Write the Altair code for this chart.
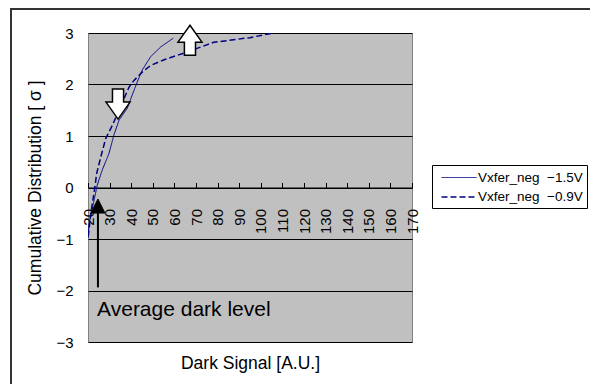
import altair as alt
import pandas as pd

# ---------------- data ----------------
x_ticks = [20, 30, 40, 50, 60, 70, 80, 90, 100, 110, 120, 130, 140, 150, 160, 170]
y_ticks = [-3, -2, -1, 0, 1, 2, 3]

series_names = ["Vxfer_neg\u00a0\u00a0\u22121.5V", "Vxfer_neg\u00a0\u00a0\u22120.9V"]

solid_x = [20.0, 20.5, 22.5, 24.3, 26.6, 29.7, 32.0, 34.4, 38.2, 40.5, 42.8, 45.1, 49.0, 53.7, 59.5]
solid_y = [-0.98, -0.70, -0.31, 0.05, 0.34, 0.66, 1.02, 1.31, 1.54, 1.80, 2.05, 2.28, 2.54, 2.73, 2.90]

dash_x = [20.1, 21.5, 23.2, 24.0, 25.9, 28.2, 31.3, 36.7, 39.0, 41.3, 45.1, 49.0, 55.2, 64.4, 78.3, 95.0, 105.6]
dash_y = [-0.95, -0.45, 0.01, 0.27, 0.59, 0.95, 1.21, 1.73, 1.95, 2.08, 2.24, 2.37, 2.48, 2.61, 2.82, 2.91, 3.00]

# annotations
label_text = ["Average dark level"]
label_x = [24.2]
label_y = [-2.38]

black_arrow_x = [24.6]
black_arrow_y = [-1.94]
black_arrow_y2 = [-0.45]
black_head_y = [-0.36]

down_arrow_x = [33.9]
down_arrow_y = [1.62]
up_arrow_x = [67.2]
up_arrow_y = [2.86]

# ---------------- tables ----------------
rows = []
for i, (x, y) in enumerate(zip(solid_x, solid_y)):
    rows.append({"x": x, "y": y, "series": series_names[0], "order": i})
for i, (x, y) in enumerate(zip(dash_x, dash_y)):
    rows.append({"x": x, "y": y, "series": series_names[1], "order": i})
df = pd.DataFrame(rows)

W, H = 324, 309
FONT = "Liberation Sans"

xscale = alt.Scale(domain=[20, 170], nice=False, zero=False)
yscale = alt.Scale(domain=[-3, 3], nice=False, zero=False)

legend = alt.Legend(
    title=None, orient="none", legendX=344, legendY=132,
    symbolType="M -2.1875 0 L 2.1875 0", symbolSize=256, symbolStrokeWidth=1.6,
    symbolOffset=14, symbolFillColor="transparent",
    labelFontSize=13.5, labelFont=FONT, labelColor="black", labelOffset=10,
    strokeColor="black", fillColor="white", padding=4, rowPadding=4,
)

lines = alt.Chart(df).mark_line(clip=True).encode(
    x=alt.X("x:Q", scale=xscale, axis=alt.Axis(
        orient="bottom", offset=-H / 2, values=x_ticks, labelAngle=270,
        labelAlign="right", labelBaseline="middle", labelPadding=21,
        labelFontSize=15, labelFont=FONT, labelColor="black",
        ticks=False, domain=False, grid=False,
        title="Dark Signal [A.U.]", titleFont=FONT, titleFontSize=17.5,
        titleFontWeight="normal", titleColor="black",
        titleY=176, titleBaseline="middle", labelOverlap=False,
    )),
    y=alt.Y("y:Q", scale=yscale, axis=alt.Axis(
        orient="left", values=y_ticks, grid=True, gridColor="black",
        gridOpacity=1, gridWidth=1, domain=False, ticks=False,
        labelPadding=15, labelFontSize=15, labelFont=FONT, labelColor="black",
        title="Cumulative Distribution [\u00a0\u03c3\u00a0]", titleFont=FONT,
        titleFontSize=17.5, titleFontWeight="normal", titleColor="black",
        titleX=-53, titleY=H / 2, titleAngle=270, titleBaseline="middle",
        titleAlign="center", labelOverlap=False,
    )),
    color=alt.Color("series:N", sort=series_names,
                    scale=alt.Scale(domain=series_names, range=["#000080", "#000080"]),
                    legend=legend),
    strokeDash=alt.StrokeDash("series:N", sort=series_names,
                              scale=alt.Scale(domain=series_names, range=[[1, 0], [6, 3]]),
                              legend=legend),
    strokeWidth=alt.StrokeWidth("series:N",
                                scale=alt.Scale(domain=series_names, range=[1.0, 1.5]),
                                legend=None),
    order="order:Q",
)

frame = alt.Chart(pd.DataFrame({"k": [0]})).mark_rect(
    filled=False, stroke="#333333", strokeWidth=2
).encode(
    x=alt.value(-77), x2=alt.value(530), y=alt.value(-24), y2=alt.value(380)
)

down_path = "M -0.37 -1 L 0.37 -1 L 0.37 -0.13 L 0.8 -0.13 L 0 1 L -0.8 -0.13 L -0.37 -0.13 Z"
up_path = "M 0 -1 L 0.8 0.13 L 0.37 0.13 L 0.37 1 L -0.37 1 L -0.37 0.13 L -0.8 0.13 Z"
tri_path = "M 0 -1 L 1 1 L -1 1 Z"

down_df = pd.DataFrame({"x": down_arrow_x, "y": down_arrow_y})
up_df = pd.DataFrame({"x": up_arrow_x, "y": up_arrow_y})

down_arrow = alt.Chart(down_df).mark_point(
    shape=down_path, size=900, filled=True, fill="white", stroke="black",
    strokeWidth=1.5, opacity=1
).encode(x=alt.X("x:Q", scale=xscale, axis=None), y=alt.Y("y:Q", scale=yscale, axis=None))

up_arrow = alt.Chart(up_df).mark_point(
    shape=up_path, size=900, filled=True, fill="white", stroke="black",
    strokeWidth=1.5, opacity=1
).encode(x=alt.X("x:Q", scale=xscale, axis=None), y=alt.Y("y:Q", scale=yscale, axis=None))

ba_df = pd.DataFrame({"x": black_arrow_x, "y": black_arrow_y, "y2": black_arrow_y2,
                      "hy": black_head_y})
shaft = alt.Chart(ba_df).mark_rule(color="black", strokeWidth=2).encode(
    x=alt.X("x:Q", scale=xscale, axis=alt.Axis(
        orient="top", offset=-H / 2, values=x_ticks, labels=False, ticks=True,
        tickSize=5, tickColor="black", tickWidth=1, domain=True,
        domainColor="black", domainWidth=1, grid=False, title=None)),
    y=alt.Y("y:Q", scale=yscale, axis=None),
    y2="y2:Q",
)
head = alt.Chart(ba_df).mark_point(
    shape=tri_path, size=196, filled=True, fill="black", stroke="black",
    strokeWidth=1, opacity=1
).encode(x=alt.X("x:Q", scale=xscale, axis=None), y=alt.Y("hy:Q", scale=yscale, axis=None))

lab_df = pd.DataFrame({"x": label_x, "y": label_y, "t": label_text})
label = alt.Chart(lab_df).mark_text(
    align="left", baseline="middle", font=FONT, fontSize=21, color="black"
).encode(x=alt.X("x:Q", scale=xscale, axis=None), y=alt.Y("y:Q", scale=yscale, axis=None),
         text="t:N")

chart = alt.layer(lines, down_arrow, up_arrow, shaft, head, label, frame).resolve_axis(
    x="independent", y="independent"
).properties(
    width=W, height=H,
    autosize=alt.AutoSizeParams(type="none"),
    padding={"left": 80, "top": 25, "right": 178, "bottom": 42},
    background="white",
).configure_view(
    stroke="#808080", strokeWidth=1, fill="#c0c0c0"
)

chart.save("out.html", embed_options={"renderer": "svg", "actions": False})
